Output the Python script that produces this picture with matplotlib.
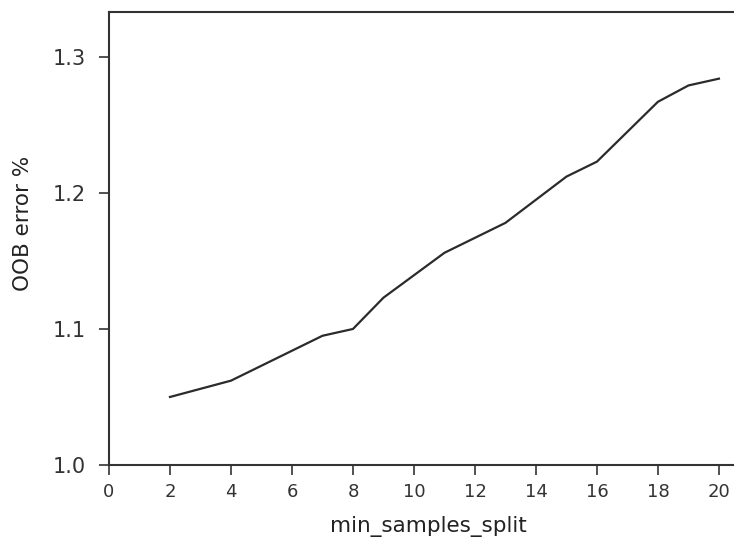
import matplotlib
matplotlib.use("Agg")
import matplotlib.pyplot as plt

# min_samples_split vs OOB error
min_samples_split = [2, 4, 7, 8, 9, 11, 13, 15, 16, 18, 19, 20]
oob_error = [1.050, 1.062, 1.095, 1.100, 1.123, 1.156, 1.178, 1.212, 1.223, 1.267, 1.279, 1.284]

x_ticks = list(range(0, 21, 2))
y_ticks = [1.0, 1.1, 1.2, 1.3]

plt.rcParams["font.family"] = "DejaVu Sans"

fig = plt.figure(figsize=(7.34, 5.4), dpi=100)
# axes extends past right edge of the figure (cropped like the original)
ax = fig.add_axes([109 / 734, 75 / 540, 645 / 734, 453 / 540])

ax.plot(min_samples_split, oob_error, color="#2b2b2b", linewidth=1.6)

ax.set_xlim(0, 21.15)
ax.set_ylim(1.0, 1.333)
ax.set_xticks(x_ticks)
ax.set_yticks(y_ticks)
ax.set_yticklabels([f"{v:.1f}" for v in y_ticks])

ax.tick_params(direction="out", length=7, width=1.2, colors="#333333")
ax.tick_params(axis="x", labelsize=13, pad=6)
ax.tick_params(axis="y", labelsize=15, pad=10)

ax.set_xlabel("min_samples_split", fontsize=15.5, color="#222222")
ax.set_ylabel("OOB error %", fontsize=15.5, color="#222222")
ax.xaxis.set_label_coords(0.4946, -0.113)
ax.yaxis.set_label_coords(-0.118, 0.533)

for side in ["left", "bottom", "top", "right"]:
    ax.spines[side].set_color("#333333")
    ax.spines[side].set_linewidth(1.5)

fig.savefig("out.png", dpi=100)
